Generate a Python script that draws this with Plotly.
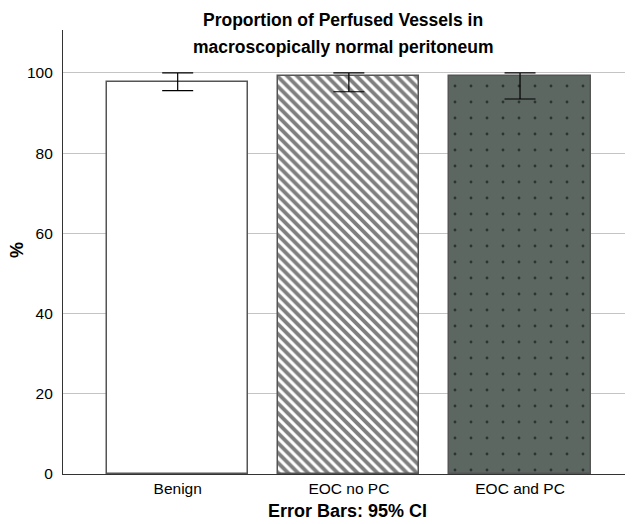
import plotly.graph_objects as go

categories = ["Benign", "EOC no PC", "EOC and PC"]
values = [97.8, 99.3, 99.3]
ci_upper = [100.0, 100.0, 100.0]
ci_lower = [95.6, 95.3, 93.5]
y_ticks = [0, 20, 40, 60, 80, 100]
title_lines = ["Proportion of Perfused Vessels in", "macroscopically normal peritoneum"]

err_plus = [u - v for u, v in zip(ci_upper, values)]
err_minus = [v - l for v, l in zip(values, ci_lower)]

font_family = "Liberation Sans, Arial, sans-serif"
OFF = 8  # page body margin
W, H = 633 - OFF, 524 - OFF
L, R, T, B = 63 - OFF, 0, 30 - OFF, 50
PH = H - T - B
PW = W - L - R

def py(ypix):
    return (H - B - (ypix - OFF)) / PH

def px(xpix):
    return ((xpix - OFF) - L) / PW

fig = go.Figure()
fills = ["white", "white", "#5c6762"]
patterns = [
    dict(shape=""),
    dict(shape="\\", size=7, solidity=0.55, fgcolor="black", bgcolor="white", fillmode="overlay"),
    dict(shape=".", size=16, solidity=0.025, fgcolor="black", bgcolor="#5c6762", fillmode="overlay"),
]
for i, c in enumerate(categories):
    fig.add_trace(go.Bar(
        x=[i], y=[values[i]],
        width=0.825,
        marker=dict(color=fills[i], line=dict(color="#555555", width=1.5), pattern=patterns[i]),
        error_y=dict(type="data", symmetric=False, array=[err_plus[i]], arrayminus=[err_minus[i]],
                     color="black", thickness=1.2, width=15.5),
        showlegend=False,
    ))

annotations = [
    dict(text="<b>%s</b>" % title_lines[0], xref="paper", yref="paper", x=px(343), y=py(20),
         xanchor="center", yanchor="middle", showarrow=False,
         font=dict(size=17.5, family=font_family, color="black")),
    dict(text="<b>%s</b>" % title_lines[1], xref="paper", yref="paper", x=px(343), y=py(47),
         xanchor="center", yanchor="middle", showarrow=False,
         font=dict(size=17.5, family=font_family, color="black")),
    dict(text="<b>Error Bars: 95% CI</b>", xref="paper", yref="paper", x=px(347), y=py(511),
         xanchor="center", yanchor="middle", showarrow=False,
         font=dict(size=18, family=font_family, color="black")),
    dict(text="<b>%</b>", xref="paper", yref="paper", x=px(17), y=py(250),
         xanchor="center", yanchor="middle", showarrow=False, textangle=-90,
         font=dict(size=18, family=font_family, color="black")),
]

fig.update_layout(
    width=W, height=H,
    margin=dict(l=L, r=R, t=T, b=B, autoexpand=False),
    paper_bgcolor="white", plot_bgcolor="white",
    font=dict(family=font_family, size=15.5, color="black"),
    bargap=0,
    annotations=annotations,
)
fig.update_xaxes(
    range=[-0.67, 2.66], automargin=False,
    tickvals=list(range(len(categories))), ticktext=categories,
    showline=True, linecolor="#333333", linewidth=1.2,
    showgrid=False, ticks="", zeroline=False, ticklabelstandoff=0,
)
fig.update_yaxes(
    range=[0, 110.7], automargin=False, tickvals=y_ticks,
    showline=True, linecolor="#333333", linewidth=1.2,
    showgrid=True, gridcolor="#c4c4c4", gridwidth=1,
    ticks="", zeroline=False, ticklabelstandoff=6,
)

fig.write_html("out.html")
